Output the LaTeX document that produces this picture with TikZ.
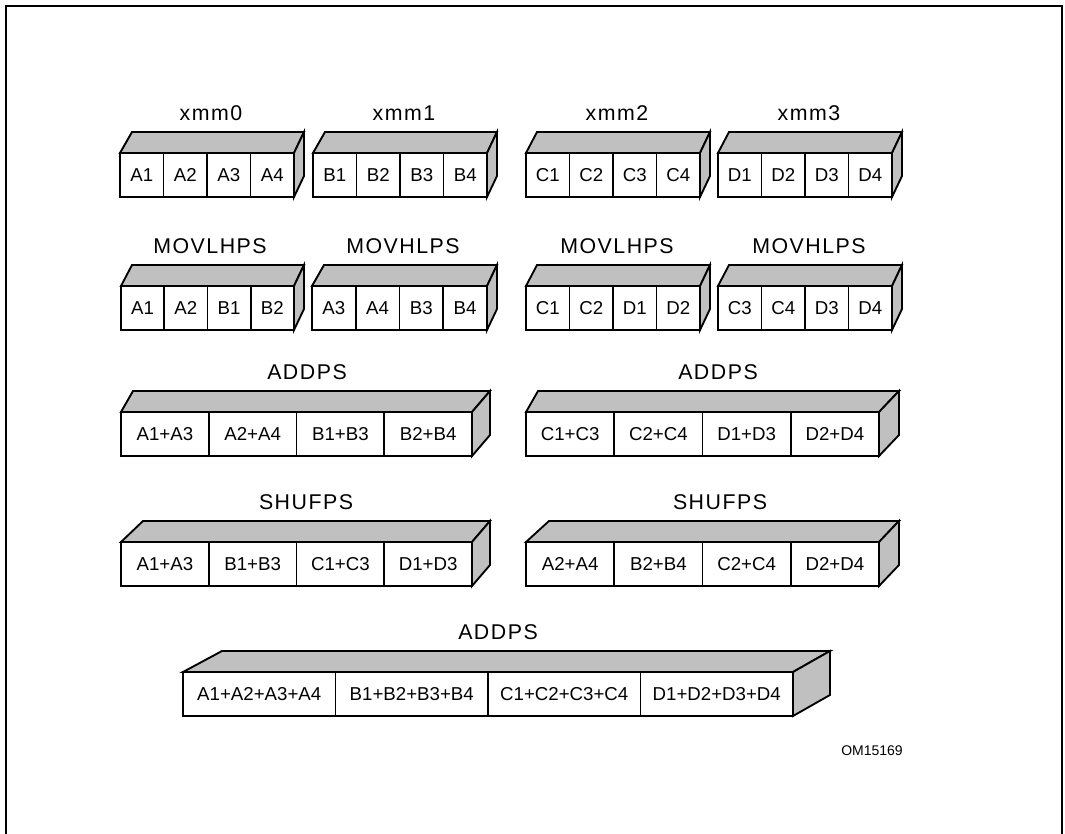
\documentclass[tikz,border=0pt]{standalone}
\usepackage{fontspec}
\setmainfont{Liberation Sans}
\newfontfamily\lblfont[LetterSpace=7]{Liberation Sans}
\definecolor{topgray}{HTML}{C0C0C0}
\newcommand\regbox[9]{%
  \pgfmathsetmacro\cw{(#3-#2)/4}%
  \pgfmathsetmacro\cwpt{(#3-#2)/4*0.75}%
  \draw[face] (#2,#4) -- (#2+#5,#4-21) -- (#3+#6,#4-21) -- (#3,#4) -- cycle;
  \draw[face] (#3,#4) -- (#3+#6,#4-21) -- (#3+#6,#4+23) -- (#3,#4+44) -- cycle;
  \node[lbl] (#1-label) at (#7,#4-32.5) {#8};
  \foreach \t [count=\i] in {#9} {
    \node[cell, minimum width=\cwpt pt] (#1-\i) at (#2+\i*\cw-0.5*\cw,#4+22) {\t};
  }
}
\begin{document}
\begin{tikzpicture}[x=0.75pt,y=-0.75pt,
  face/.style={line width=1.4pt, line join=miter, fill=topgray},
  cell/.style={draw, line width=1.4pt, fill=white, inner sep=0pt, minimum height=33pt,
    font=\fontsize{14}{16}\selectfont},
  lbl/.style={anchor=base, inner sep=0pt, font=\lblfont\fontsize{16}{18}\selectfont},
  tag/.style={anchor=base west, inner sep=0pt, font=\fontsize{10.5}{12}\selectfont}]
\path[use as bounding box] (0,0) rectangle (1065,834);
\clip (0,0) rectangle (1065,834);
\draw[line width=1.6pt] (6,900) -- (6,6) -- (1062,6) -- (1062,900);
% row 1
\regbox{xa}{120}{294}{153}{12}{10}{211}{xmm0}{A1,A2,A3,A4}
\regbox{xb}{313}{487}{153}{12}{10}{404}{xmm1}{B1,B2,B3,B4}
\regbox{xc}{526}{700}{153}{11}{10}{617}{xmm2}{C1,C2,C3,C4}
\regbox{xd}{718}{892}{153}{11}{10}{809}{xmm3}{D1,D2,D3,D4}
% row 2
\regbox{ma}{121}{294}{286}{11}{10}{210}{MOVLHPS}{A1,A2,B1,B2}
\regbox{mb}{312}{487}{286}{12}{10}{403}{MOVHLPS}{A3,A4,B3,B4}
\regbox{mc}{526}{700}{286}{11}{10}{617}{MOVLHPS}{C1,C2,D1,D2}
\regbox{md}{718}{892}{286}{11}{10}{809}{MOVHLPS}{C3,C4,D3,D4}
% row 3
\regbox{aa}{121}{472}{412}{12}{18}{307}{ADDPS}{A1+A3,A2+A4,B1+B3,B2+B4}
\regbox{ab}{526}{879}{412}{12}{20}{718}{ADDPS}{C1+C3,C2+C4,D1+D3,D2+D4}
% row 4
\regbox{sa}{121}{472}{542}{22}{18}{306}{SHUFPS}{A1+A3,B1+B3,C1+C3,D1+D3}
\regbox{sb}{526}{879}{542}{23}{20}{720}{SHUFPS}{A2+A4,B2+B4,C2+C4,D2+D4}
% row 5
\regbox{fa}{183}{793}{672}{39}{37}{498}{ADDPS}{A1+A2+A3+A4,B1+B2+B3+B4,C1+C2+C3+C4,D1+D2+D3+D4}
\node[tag] (om) at (841,755) {OM15169};
\end{tikzpicture}
\end{document}
